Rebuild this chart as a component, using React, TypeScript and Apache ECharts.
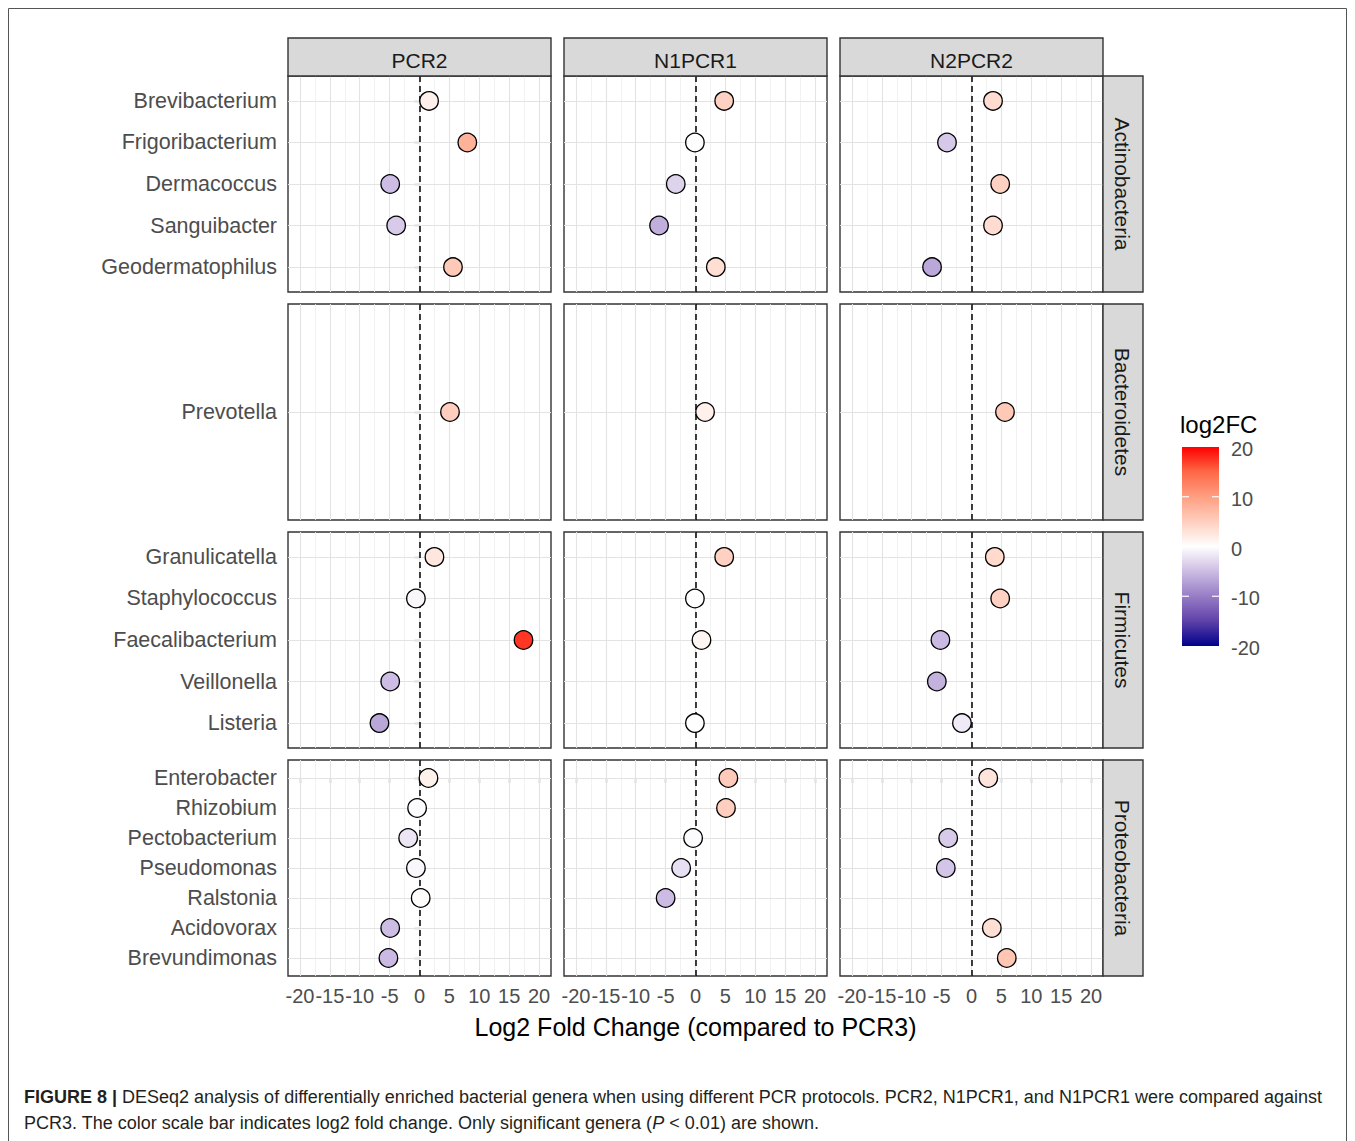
import React, { useEffect, useRef } from "react";
import * as echarts from "echarts";

// ---------------- data ----------------
const protocols = ["PCR2", "N1PCR1", "N2PCR2"];
const phyla = ["Actinobacteria", "Bacteroidetes", "Firmicutes", "Proteobacteria"];
const genera = [
  "Brevibacterium", "Frigoribacterium", "Dermacoccus", "Sanguibacter", "Geodermatophilus",
  "Prevotella",
  "Granulicatella", "Staphylococcus", "Faecalibacterium", "Veillonella", "Listeria",
  "Enterobacter", "Rhizobium", "Pectobacterium", "Pseudomonas", "Ralstonia", "Acidovorax", "Brevundimonas",
];
const genusPhylum = [0, 0, 0, 0, 0, 1, 2, 2, 2, 2, 2, 3, 3, 3, 3, 3, 3, 3];
const pcr2 = [1.6, 8.0, -4.9, -3.9, 5.6, 5.1, 2.5, -0.6, 17.4, -4.9, -6.7, 1.5, -0.4, -1.9, -0.6, 0.2, -4.9, -5.2];
const n1pcr1 = [4.8, -0.1, -3.3, -6.1, 3.4, 1.6, 4.8, -0.1, 1.0, null, -0.1, 5.5, 5.1, -0.4, -2.4, -5.0, null, null];
const n2pcr2 = [3.6, -4.1, 4.8, 3.6, -6.6, 5.6, 3.9, 4.8, -5.2, -5.8, -1.6, 2.8, null, -3.9, -4.3, null, 3.4, 5.9];
const protocolValues = [pcr2, n1pcr1, n2pcr2];
const xTicks = [-20, -15, -10, -5, 0, 5, 10, 15, 20];
const xMinorGrid = [-17.5, -12.5, -7.5, -2.5, 2.5, 7.5, 12.5, 17.5];
const colorbarBreaks = [20, 10, 0, -10, -20];
// fill scale (low -> high), Lab-interpolated darkblue - white - red
const fillStops = ["#00008B", "#5F41A9", "#977DC6", "#CCBCE3", "#FFFFFF", "#FFCFBF", "#FF9E81", "#FF6846", "#FF0000"];

// ---------------- layout ----------------
const FONT = "'Liberation Sans', Arial, Helvetica, sans-serif";
const colLeft = [288, 564, 840];
const panelW = 263;
const rowTop = [76, 304, 532, 760];
const panelH = 216;
const stripTop = 38;
const stripH = 38;
const rightStripX = 1103;
const rightStripW = 40;
const cbX = 1182, cbY = 447, cbW = 37, cbH = 199;

function App() {
  const ref = useRef<HTMLDivElement>(null);
  useEffect(() => {
    if (!ref.current) return;
    const chart = echarts.init(ref.current, undefined, { renderer: "svg" });

    const grids: any[] = [];
    const xAxes: any[] = [];
    const yAxes: any[] = [];
    const series: any[] = [];

    phyla.forEach((_, r) => {
      const names = genera.filter((_, i) => genusPhylum[i] === r);
      const gIdx = genera.map((_, i) => i).filter((i) => genusPhylum[i] === r);
      const n = names.length;
      const yVals = names.map((_, j) => j);
      protocols.forEach((_, c) => {
        const idx = r * 3 + c;
        grids.push({
          left: colLeft[c], top: rowTop[r], width: panelW, height: panelH,
          show: true, borderColor: "#333333", borderWidth: 1.4, backgroundColor: "#ffffff",
          containLabel: false, outerBoundsMode: "none",
        });
        xAxes.push({
          gridIndex: idx, type: "value", min: -22, max: 22,
          axisLine: { show: false },
          axisTick: { show: r === 3, customValues: xTicks, length: 5, lineStyle: { color: "#333333", width: 1.2 } },
          axisLabel: { show: r === 3, customValues: xTicks, fontSize: 20, color: "#4D4D4D", margin: 10, fontFamily: FONT },
          splitLine: { show: false },
        });
        yAxes.push({
          gridIndex: idx, type: "value", inverse: true, min: -0.6, max: n - 0.4,
          axisLine: { show: false },
          axisTick: { show: c === 0, customValues: yVals, length: 5, lineStyle: { color: "#333333", width: 1.2 } },
          axisLabel: {
            show: c === 0, customValues: yVals, fontSize: 21.5, color: "#4D4D4D", margin: 11, fontFamily: FONT,
            padding: [4, 0, 0, 0],
            formatter: (v: number) => names[Math.round(v)] ?? "",
          },
          splitLine: { show: false },
        });
        const vals = protocolValues[c];
        const data: any[] = [];
        gIdx.forEach((gi, j) => {
          const v = vals[gi];
          if (v !== null && v !== undefined) data.push([v, j]);
        });
        const lines: any[] = [];
        xMinorGrid.forEach((v) => lines.push({ xAxis: v, lineStyle: { color: "#EFEFEF", width: 0.8, type: "solid" } }));
        xTicks.forEach((v) => lines.push({ xAxis: v, lineStyle: { color: "#E3E3E3", width: 1.1, type: "solid" } }));
        yVals.forEach((v) => lines.push({ yAxis: v, lineStyle: { color: "#E3E3E3", width: 1.1, type: "solid" } }));
        lines.push({ xAxis: 0, lineStyle: { color: "#000000", width: 1.5, type: [6, 4] } });
        series.push({
          type: "scatter", xAxisIndex: idx, yAxisIndex: idx, data,
          symbol: "circle", symbolSize: 18.5, z: 3,
          itemStyle: { borderColor: "#000000", borderWidth: 1.3, opacity: 1 },
          markLine: { silent: true, symbol: ["none", "none"], z: 1, label: { show: false }, emphasis: { disabled: true }, data: lines },
        });
      });
    });

    const elements: any[] = [];
    // outer frame
    elements.push({ type: "rect", shape: { x: 8.5, y: 8.5, width: 1338, height: 1160 }, style: { fill: "none", stroke: "#555555", lineWidth: 1 }, z: 0 });
    // top strips
    protocols.forEach((p, c) => {
      elements.push({ type: "rect", shape: { x: colLeft[c], y: stripTop, width: panelW, height: stripH }, style: { fill: "#D9D9D9", stroke: "#333333", lineWidth: 1.4 }, z: 5 });
      elements.push({ type: "text", x: colLeft[c] + panelW / 2, y: stripTop + stripH / 2 + 3, style: { text: p, fontSize: 21, fontFamily: FONT, fill: "#1A1A1A", align: "center", verticalAlign: "middle" }, z: 6 });
    });
    // right strips
    phyla.forEach((p, r) => {
      elements.push({ type: "rect", shape: { x: rightStripX, y: rowTop[r], width: rightStripW, height: panelH }, style: { fill: "#D9D9D9", stroke: "#333333", lineWidth: 1.4 }, z: 5 });
      elements.push({ type: "text", x: rightStripX + rightStripW / 2 - 1, y: rowTop[r] + panelH / 2, rotation: -Math.PI / 2, style: { text: p, fontSize: 21, fontFamily: FONT, fill: "#1A1A1A", align: "center", verticalAlign: "middle" }, z: 6 });
    });
    // x axis title
    elements.push({ type: "text", x: (colLeft[0] + colLeft[2] + panelW) / 2, y: 1027, style: { text: "Log2 Fold Change (compared to PCR3)", fontSize: 25, fontFamily: FONT, fill: "#000000", align: "center", verticalAlign: "middle" } });
    // legend
    elements.push({ type: "text", x: 1180, y: 424, style: { text: "log2FC", fontSize: 24, fontFamily: FONT, fill: "#000000", align: "left", verticalAlign: "middle" } });
    const stops = fillStops.slice().reverse().map((col, i, arr) => ({ offset: i / (arr.length - 1), color: col }));
    elements.push({ type: "rect", shape: { x: cbX, y: cbY, width: cbW, height: cbH }, style: { fill: { type: "linear", x: 0, y: 0, x2: 0, y2: 1, colorStops: stops }, stroke: "none" } });
    colorbarBreaks.forEach((b) => {
      const yy = cbY + ((20 - b) / 40) * cbH;
      if (b !== 20 && b !== -20) {
        elements.push({ type: "line", shape: { x1: cbX, y1: yy, x2: cbX + 7, y2: yy }, style: { stroke: "#ffffff", lineWidth: 1.2 } });
        elements.push({ type: "line", shape: { x1: cbX + cbW - 7, y1: yy, x2: cbX + cbW, y2: yy }, style: { stroke: "#ffffff", lineWidth: 1.2 } });
      }
      elements.push({ type: "text", x: 1231, y: yy + 2, style: { text: String(b), fontSize: 20, fontFamily: FONT, fill: "#4D4D4D", align: "left", verticalAlign: "middle" } });
    });
    // caption
    elements.push({
      type: "text", x: 24, y: 1097,
      style: {
        text: "{b|FIGURE 8 |} DESeq2 analysis of differentially enriched bacterial genera when using different PCR protocols. PCR2, N1PCR1, and N1PCR1 were compared against",
        fontSize: 18, fontFamily: FONT, fill: "#231F20", align: "left", verticalAlign: "middle",
        rich: { b: { fontWeight: "bold", fontSize: 18, fontFamily: FONT, fill: "#231F20" } },
      },
    });
    elements.push({
      type: "text", x: 24, y: 1123,
      style: {
        text: "PCR3. The color scale bar indicates log2 fold change. Only significant genera ({i|P} < 0.01) are shown.",
        fontSize: 18, fontFamily: FONT, fill: "#231F20", align: "left", verticalAlign: "middle",
        rich: { i: { fontStyle: "italic", fontSize: 18, fontFamily: FONT, fill: "#231F20" } },
      },
    });

    chart.setOption({
      animation: false,
      backgroundColor: "#ffffff",
      textStyle: { fontFamily: FONT },
      grid: grids,
      xAxis: xAxes,
      yAxis: yAxes,
      visualMap: {
        type: "continuous", show: false, min: -20, max: 20, dimension: 0,
        seriesIndex: series.map((_, i) => i),
        inRange: { color: fillStops },
      },
      series,
      graphic: { elements },
    });
    return () => chart.dispose();
  }, []);
  return <div ref={ref} style={{ position: "fixed", left: 0, top: 0, width: 1355, height: 1141 }} />;
}

export default App;
